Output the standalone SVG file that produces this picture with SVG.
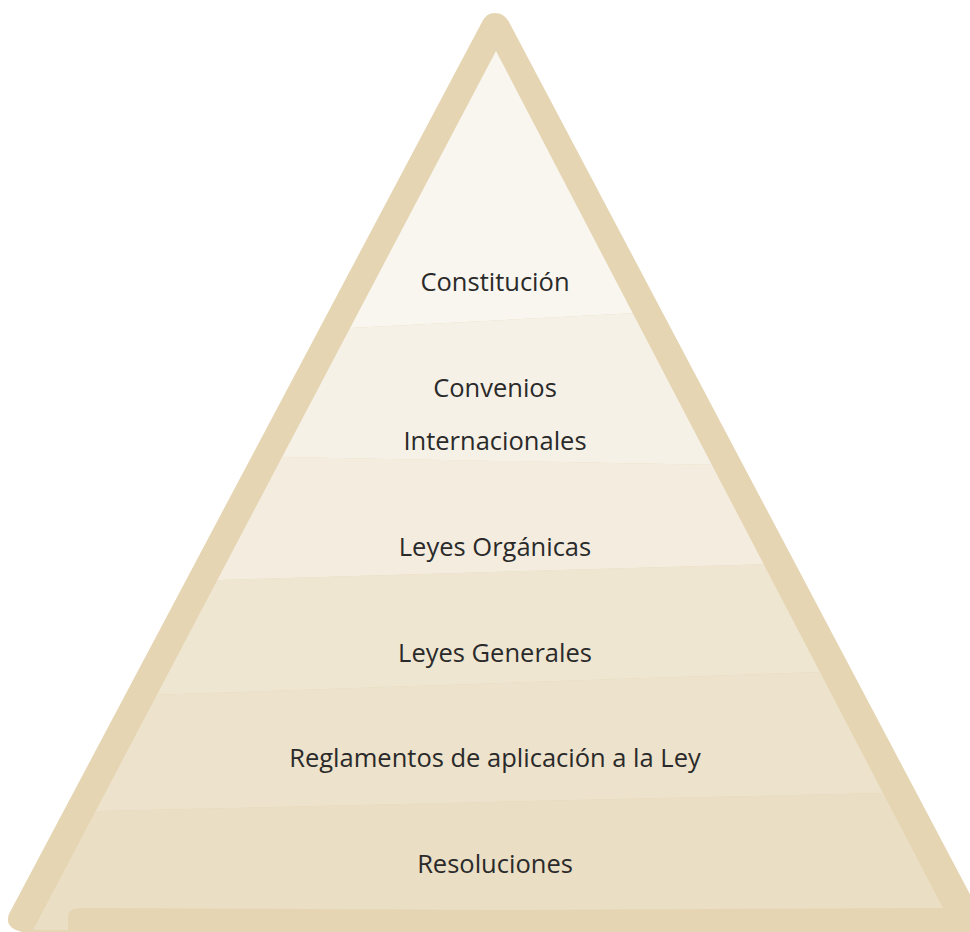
<svg xmlns="http://www.w3.org/2000/svg" width="970" height="932" viewBox="0 0 970 932">
  <defs>
    <style>
      .frame { fill: #e5d5b2; }
      .label { font-family: "Open Sans", "Noto Sans", "Liberation Sans", sans-serif; font-size: 25.5px; fill: #2a2a2a; text-anchor: middle; }
      .b1 { fill: #f9f6ef; }
      .b2 { fill: #f6f1e6; }
      .b3 { fill: #f4eddf; }
      .b4 { fill: #efe6d2; }
      .b5 { fill: #ede2cc; }
      .b6 { fill: #eadec4; }
    </style>
    <!-- inner area of the pyramid, inside the thick frame -->
    <clipPath id="inner">
      <path d="M496,51 L33,930 L970,930 L970,905 L943,908 Z"/>
    </clipPath>
  </defs>

  <!-- thick sketched frame of the pyramid -->
  <path class="frame" d="M482,22 Q486,13 495,13 Q504,13 509,22 L990,932 L22,932 Q4,928 9,914 Z"/>

  <!-- levels, top to bottom -->
  <g clip-path="url(#inner)">
    <g id="constitucion">
      <polygon class="b1" points="0,0 970,0 970,295.6 0,346.3"/>
      <text class="label" x="495" y="291">Constitución</text>
    </g>
    <g id="convenios-internacionales">
      <polygon class="b2" points="0,346.3 970,295.6 970,469.6 0,451.8"/>
      <text class="label" x="495" y="397">Convenios</text>
      <text class="label" x="495" y="450">Internacionales</text>
    </g>
    <g id="leyes-organicas">
      <polygon class="b3" points="0,451.8 970,469.6 970,558.2 0,586.3"/>
      <text class="label" x="495" y="556">Leyes Orgánicas</text>
    </g>
    <g id="leyes-generales">
      <polygon class="b4" points="0,586.3 970,558.2 970,667 0,700.2"/>
      <text class="label" x="495" y="662">Leyes Generales</text>
    </g>
    <g id="reglamentos">
      <polygon class="b5" points="0,700.2 970,667 970,791 0,813.3"/>
      <text class="label" x="495" y="767">Reglamentos de aplicación a la Ley</text>
    </g>
    <g id="resoluciones">
      <polygon class="b6" points="0,813.3 970,791 970,932 0,932"/>
      <text class="label" x="495" y="873">Resoluciones</text>
    </g>
  </g>

  <!-- base stroke of the frame -->
  <path class="frame" d="M68,918 Q68,908 80,908 L500,910 L943,908 L970,905 L970,932 L68,932 Z"/>
</svg>
